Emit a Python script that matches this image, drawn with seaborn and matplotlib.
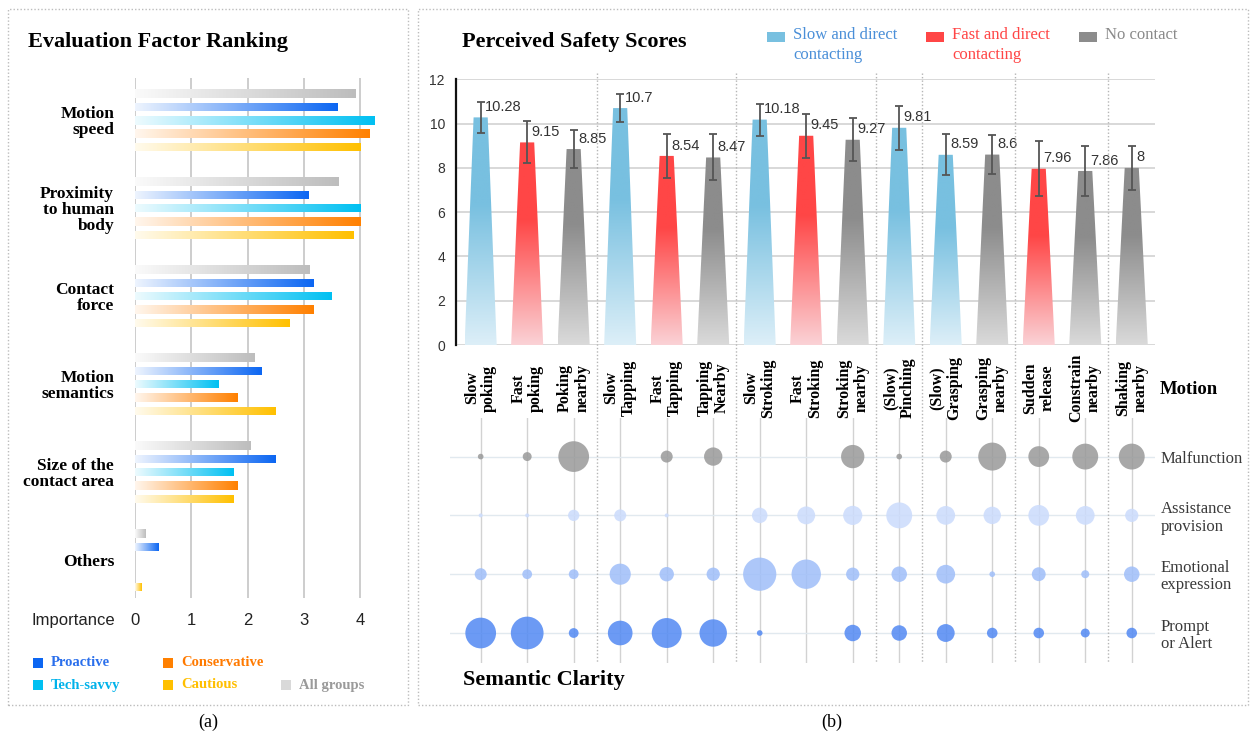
import numpy as np
import pandas as pd
import seaborn as sns
import matplotlib.pyplot as plt
from matplotlib.colors import LinearSegmentedColormap, to_rgb
from matplotlib.patches import Polygon, Rectangle
from matplotlib.lines import Line2D
from matplotlib.transforms import blended_transform_factory

plt.rcParams['font.family'] = ['Liberation Sans', 'DejaVu Sans']
SERIF = ['Liberation Serif', 'DejaVu Serif']

# ---- (a) evaluation factor ranking ----
factors = ['Motion\nspeed', 'Proximity\nto human\nbody', 'Contact\nforce',
           'Motion\nsemantics', 'Size of the\ncontact area', 'Others']
groups = ['All groups', 'Proactive', 'Tech-savvy', 'Conservative', 'Cautious']
all_groups = [3.91, 3.61, 3.10, 2.13, 2.06, 0.19]
proactive = [3.59, 3.08, 3.17, 2.25, 2.50, 0.41]
tech_savvy = [4.26, 4.01, 3.50, 1.49, 1.75, 0.0]
conservative = [4.17, 4.00, 3.17, 1.83, 1.83, 0.0]
cautious = [4.01, 3.88, 2.75, 2.50, 1.75, 0.12]
group_colors = {'All groups': '#bdbdbd', 'Proactive': '#0c66f2', 'Tech-savvy': '#00c0f2',
                'Conservative': '#ff8000', 'Cautious': '#ffc000'}
legend_text_colors = {'All groups': '#9a9a9a', 'Proactive': '#2a6fec', 'Tech-savvy': '#00b2ea',
                      'Conservative': '#ff7a00', 'Cautious': '#ffbf00'}

# ---- (b) perceived safety scores ----
motions = ['Slow\npoking', 'Fast\npoking', 'Poking\nnearby', 'Slow\nTapping', 'Fast\nTapping',
           'Tapping\nNearby', 'Slow\nStroking', 'Fast\nStroking', 'Stroking\nnearby',
           '(Slow)\nPinching', '(Slow)\nGrasping', 'Grasping\nnearby', 'Sudden\nrelease',
           'Constrain\nnearby', 'Shaking\nnearby']
families = ['poke', 'poke', 'poke', 'tap', 'tap', 'tap', 'stroke', 'stroke', 'stroke',
            'pinch', 'grasp', 'grasp', 'release', 'release', 'shake']
contact = ['slow', 'fast', 'none', 'slow', 'fast', 'none', 'slow', 'fast', 'none',
           'slow', 'slow', 'none', 'fast', 'none', 'none']
safety = [10.28, 9.15, 8.85, 10.7, 8.54, 8.47, 10.18, 9.45, 9.27, 9.81, 8.59, 8.6, 7.96, 7.86, 8]
safety_err = [0.69, 0.95, 0.87, 0.63, 1.0, 1.04, 0.72, 1.0, 0.96, 1.0, 0.92, 0.88, 1.25, 1.13, 1.0]
contact_labels = {'slow': 'Slow and direct\ncontacting', 'fast': 'Fast and direct\ncontacting',
                  'none': 'No contact'}
contact_colors = {'slow': '#78c0e0', 'fast': '#ff4646', 'none': '#8c8c8c'}
contact_light = {'slow': '#ddeff8', 'fast': '#fad2d6', 'none': '#dadada'}
contact_text = {'slow': '#4a8fd8', 'fast': '#ff4545', 'none': '#8a8a8a'}

# semantic clarity bubbles (number of mentions)
reasons = ['Malfunction', 'Assistance\nprovision', 'Emotional\nexpression', 'Prompt\nor Alert']
malfunction = [2, 5, 59, 0, 9, 21, 0, 0, 34, 2, 9, 49, 27, 42, 42]
assistance = [1, 1, 8, 9, 1, 0, 15, 20, 23, 42, 22, 19, 27, 22, 11]
emotional = [9, 6, 6, 28, 13, 11, 69, 54, 11, 15, 22, 2, 12, 4, 15]
prompt = [59, 67, 6, 38, 56, 47, 2, 0, 17, 15, 20, 7, 7, 5, 7]
reason_colors = {'Malfunction': '#999999', 'Assistance\nprovision': '#cbdbfc',
                 'Emotional\nexpression': '#9fbef9', 'Prompt\nor Alert': '#5289f3'}

W, H = 1252, 738
fig = plt.figure(figsize=(W / 100, H / 100), dpi=100)


def box(l, t, r, b):
    return [l / W, 1 - b / H, (r - l) / W, (b - t) / H]


def lighten(c, amount):
    c = np.array(to_rgb(c))
    return tuple(1 - (1 - c) * amount)


# panel frames and captions
for l, t, r, b in [(8, 9, 408, 705), (418, 9, 1248, 705)]:
    fig.add_artist(Rectangle((l / W, 1 - b / H), (r - l) / W, (b - t) / H, transform=fig.transFigure,
                             fill=False, ec='#bcbcbc', lw=1, ls=(0, (1, 1.5))))
fig.text(208 / W, 1 - 722 / H, '(a)', ha='center', va='center', fontsize=13, family=SERIF)
fig.text(832 / W, 1 - 722 / H, '(b)', ha='center', va='center', fontsize=13, family=SERIF)

# ================= (a) =================
ax_a = fig.add_axes(box(135, 78, 377, 598))
df_a = pd.DataFrame({'factor': factors, 'All groups': all_groups, 'Proactive': proactive,
                     'Tech-savvy': tech_savvy, 'Conservative': conservative, 'Cautious': cautious})
df_a = df_a.melt(id_vars='factor', var_name='group', value_name='importance')
sns.barplot(data=df_a, x='importance', y='factor', hue='group', order=factors, hue_order=groups,
            palette=group_colors, saturation=1, orient='h', width=0.76, gap=0.36, legend=False,
            errorbar=None, ax=ax_a, zorder=2)

grad = np.linspace(0, 1, 256)[None, :]
for p in ax_a.patches:
    w = p.get_width()
    end = to_rgb(p.get_facecolor())
    p.set_facecolor('none')
    p.set_edgecolor('none')
    if w <= 0:
        continue
    cmap = LinearSegmentedColormap.from_list('', [lighten(end, 0.07), end])
    im = ax_a.imshow(grad, cmap=cmap, aspect='auto', interpolation='bilinear', zorder=2,
                     extent=[p.get_x(), p.get_x() + w, p.get_y() + p.get_height(), p.get_y()])
    im.set_clip_path(p)

ax_a.set_xlim(0, 4.3)
ax_a.set_ylim(5.43, -0.48)
ax_a.set_xticks(range(5))
ax_a.grid(axis='x', color='#c9c9c9', lw=1.3)
ax_a.set_axisbelow(True)
for s in ax_a.spines.values():
    s.set_visible(False)
ax_a.set_xlabel('')
ax_a.set_ylabel('')
ax_a.tick_params(axis='x', length=0, pad=11, labelsize=12, labelcolor='#222222')
ax_a.tick_params(axis='y', length=0, pad=15)
for lbl in ax_a.get_yticklabels():
    lbl.set(family=SERIF, fontweight='bold', fontsize=12.5, linespacing=1.0)

fig.text(28 / W, 1 - 42 / H, 'Evaluation Factor Ranking', fontsize=16, fontweight='bold',
         family=SERIF, va='center')
fig.text(115 / W, 1 - 620 / H, 'Importance', fontsize=12, ha='right', va='center', color='#222222')

# legend (a)
legend_slots = {'Proactive': (33, 663), 'Conservative': (163, 663), 'Tech-savvy': (33, 685),
                'Cautious': (163, 685), 'All groups': (281, 685)}
for g in groups:
    x, y = legend_slots[g]
    sq = group_colors[g] if g != 'All groups' else '#d9d9d9'
    fig.add_artist(Rectangle((x / W, 1 - (y + 5) / H), 10 / W, 10 / H, transform=fig.transFigure,
                             color=sq, lw=0))
    fig.text((x + 18) / W, 1 - y / H, g, color=legend_text_colors[g], fontsize=10.5,
             fontweight='bold', family=SERIF, va='center')

# ================= (b) bars =================
ax_b = fig.add_axes(box(456, 79.3, 1155, 345))
df_b = pd.DataFrame({'motion': motions, 'contact': contact, 'score': safety, 'err': safety_err})
sns.barplot(data=df_b, x='motion', y='score', hue='contact', palette=contact_colors, saturation=1,
            dodge=False, width=0.69, legend=False, errorbar=None, ax=ax_b, zorder=2)

vgrad = np.linspace(0, 1, 256)[:, None]
for p in list(ax_b.patches):
    h = p.get_height()
    fc = np.array(to_rgb(p.get_facecolor()))
    p.set_visible(False)
    if h <= 0:
        continue
    kind = min(contact_colors, key=lambda k: np.abs(np.array(to_rgb(contact_colors[k])) - fc).sum())
    w = p.get_width()
    xc = p.get_x() + w / 2
    trap = Polygon([(xc - w / 2, 0), (xc + w / 2, 0), (xc + 0.22 * w, h), (xc - 0.22 * w, h)],
                   closed=True, fc='none', ec='none', transform=ax_b.transData)
    ax_b.add_patch(trap)
    cmap = LinearSegmentedColormap.from_list(
        '', [(0, contact_light[kind]), (0.62, contact_colors[kind]), (1, contact_colors[kind])])
    im = ax_b.imshow(vgrad, cmap=cmap, origin='lower', aspect='auto', interpolation='bilinear',
                     extent=[xc - w / 2, xc + w / 2, 0, h], zorder=2)
    im.set_clip_path(trap)

xpos = np.arange(len(motions))
ax_b.errorbar(xpos, safety, yerr=safety_err, fmt='none', ecolor='#555555', elinewidth=1.3,
              capsize=3, capthick=1.3, zorder=4)
for x, v in zip(xpos, safety):
    ax_b.text(x + 0.1, v + 0.47, f'{v:g}', fontsize=10.5, color='#333333', va='center', ha='left',
              zorder=5)

ax_b.set_xlim(-0.53, 14.5)
ax_b.set_ylim(0, 12)
ax_b.set_yticks(range(0, 13, 2))
ax_b.set_xticks([])
ax_b.grid(axis='y', color='#d6d6d6', lw=1.3)
ax_b.set_axisbelow(True)
for k in ['top', 'right', 'bottom']:
    ax_b.spines[k].set_visible(False)
ax_b.spines['left'].set(color='#111111', lw=1.6)
ax_b.tick_params(axis='y', length=0, pad=8, labelsize=10, labelcolor='#333333')
ax_b.set_xlabel('')
ax_b.set_ylabel('')

# group separators across bars and bubbles
sep_tr = blended_transform_factory(ax_b.transData, fig.transFigure)
for i in range(1, len(families)):
    if families[i] != families[i - 1]:
        fig.add_artist(Line2D([i - 0.5, i - 0.5], [1 - 73 / H, 1 - 663 / H], transform=sep_tr,
                              color='#b5b5b5', lw=1, ls=(0, (1, 1.5))))

# motion labels
for x, m in zip(xpos, motions):
    fig.text(x, 1 - 388 / H, m, transform=sep_tr, rotation=90, ha='center', va='center',
             multialignment='center', fontsize=11.5, fontweight='bold', family=SERIF,
             linespacing=1.1)
fig.text(1160 / W, 1 - 390 / H, 'Motion', fontsize=13.5, fontweight='bold', family=SERIF,
         va='center')

fig.text(462 / W, 1 - 42 / H, 'Perceived Safety Scores', fontsize=16, fontweight='bold',
         family=SERIF, va='center')

# legend (b)
legend_b = {'slow': 767, 'fast': 926, 'none': 1079}
for k, x in legend_b.items():
    fig.add_artist(Rectangle((x / W, 1 - 42 / H), 18 / W, 10 / H, transform=fig.transFigure,
                             color=contact_colors[k], lw=0))
    fig.text((x + 26) / W, 1 - 27 / H, contact_labels[k], color=contact_text[k], fontsize=12,
             family=SERIF, va='top', linespacing=1.35)

# ================= (b) bubbles =================
ax_c = fig.add_axes(box(450, 418, 1155, 663))
bub = pd.DataFrame({'motion': motions, reasons[0]: malfunction, reasons[1]: assistance,
                    reasons[2]: emotional, reasons[3]: prompt})
bub = bub.melt(id_vars='motion', var_name='reason', value_name='count')
bub['xpos'] = bub['motion'].map({m: i for i, m in enumerate(motions)})
bub['ypos'] = bub['reason'].map({r: j for j, r in enumerate(reasons)})
bub = bub[bub['count'] > 0]
sns.scatterplot(data=bub, x='xpos', y='ypos', hue='reason', size='count', sizes=(0, 580),
                size_norm=(0, 70), palette=reason_colors, linewidth=0, alpha=0.85, legend=False,
                ax=ax_c, zorder=3)
ax_c.set_xlim(-0.66, 14.5)
ax_c.set_ylim(3.51, -0.656)
ax_c.set_xticks(range(len(motions)))
ax_c.set_xticklabels([])
ax_c.set_yticks(range(len(reasons)))
ax_c.set_yticklabels(reasons)
ax_c.yaxis.tick_right()
ax_c.xaxis.grid(True, color='#d2d2d2', lw=1)
ax_c.yaxis.grid(True, color='#e1e9ef', lw=1)
ax_c.set_axisbelow(True)
for s in ax_c.spines.values():
    s.set_visible(False)
ax_c.tick_params(length=0)
ax_c.tick_params(axis='y', pad=4)
for lbl in ax_c.get_yticklabels():
    lbl.set(family=SERIF, fontsize=12, color='#3a3a3a', linespacing=1.1)
ax_c.set_xlabel('')
ax_c.set_ylabel('')

fig.text(463 / W, 1 - 680 / H, 'Semantic Clarity', fontsize=16, fontweight='bold', family=SERIF,
         va='center')

fig.savefig('out.png', dpi=100)
